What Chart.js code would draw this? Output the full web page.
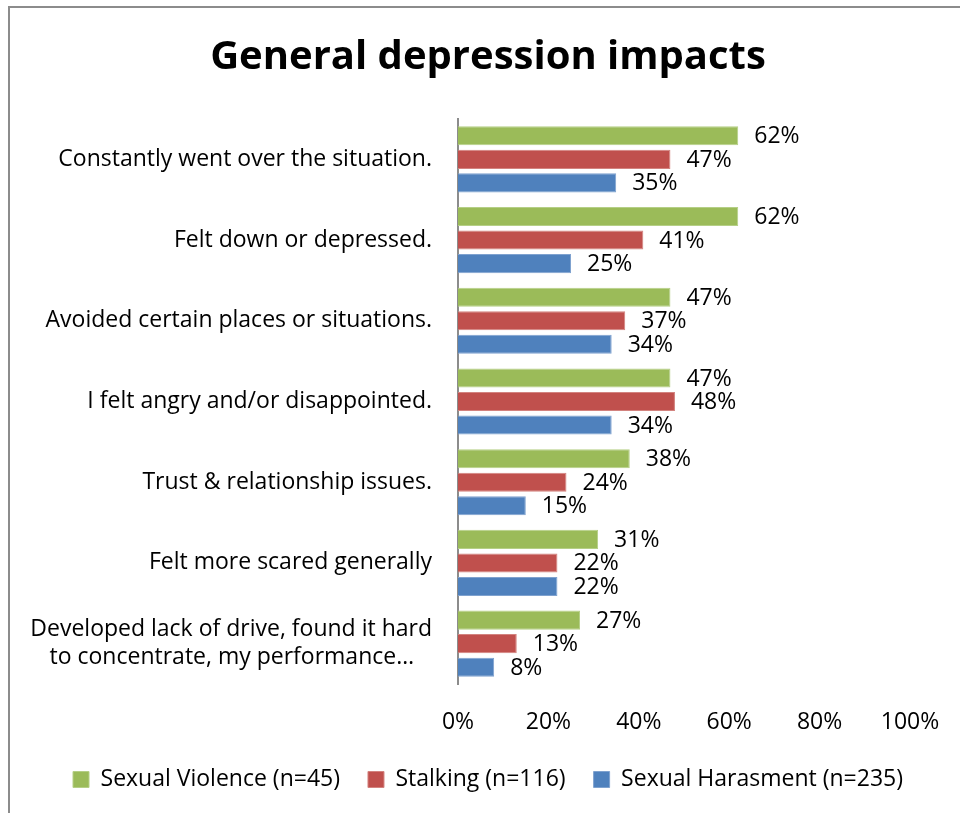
<!DOCTYPE html>
<html>
<head>
<meta charset="utf-8">
<script src="https://cdn.jsdelivr.net/npm/chart.js@4/dist/chart.umd.min.js"></script>
<style>
  html, body { margin: 0; padding: 0; background: #fff; }
  #wrap { position: relative; width: 960px; height: 813px; }
</style>
</head>
<body>
<div id="wrap"><canvas id="c" width="960" height="813"></canvas></div>
<script>
const categories = [
  "Constantly went over the situation.",
  "Felt down or depressed.",
  "Avoided certain places or situations.",
  "I felt angry and/or disappointed.",
  "Trust & relationship issues.",
  "Felt more scared generally",
  ["Developed lack of drive, found it hard", "to concentrate, my performance…"]
];
const seriesNames = ["Sexual Violence (n=45)", "Stalking (n=116)", "Sexual Harasment (n=235)"];
const sexualViolence = [62, 62, 47, 47, 38, 31, 27];
const stalking = [47, 41, 37, 48, 24, 22, 13];
const sexualHarassment = [35, 25, 34, 34, 15, 22, 8];
const xTicks = [0, 20, 40, 60, 80, 100];

const FONT = "'Open Sans', sans-serif";
const FS = 23;

// centre the lines of a multi-line category label (right-aligned axis)
const measureCtx = document.createElement('canvas').getContext('2d');
function centreLines(lines) {
  measureCtx.font = FS + 'px ' + FONT;
  const widths = lines.map(l => measureCtx.measureText(l).width);
  const maxW = Math.max(...widths);
  const sp = measureCtx.measureText(' ').width;
  return lines.map((l, i) => l + ' '.repeat(Math.round((maxW - widths[i]) / 2 / sp)));
}

const frame = {
  id: 'frame',
  beforeDraw(chart) {
    const ctx = chart.ctx;
    ctx.save();
    ctx.fillStyle = '#fff';
    ctx.fillRect(0, 0, chart.width, chart.height);
    ctx.strokeStyle = '#8c8c8c';
    ctx.lineWidth = 2;
    ctx.beginPath();
    ctx.moveTo(9, chart.height + 5);
    ctx.lineTo(9, 7);
    ctx.lineTo(chart.width + 5, 7);
    ctx.stroke();
    ctx.restore();
  }
};

const valueLabels = {
  id: 'valueLabels',
  afterDatasetsDraw(chart) {
    const ctx = chart.ctx;
    ctx.save();
    ctx.font = FS + "px " + FONT;
    ctx.fillStyle = '#000';
    ctx.textAlign = 'left';
    ctx.textBaseline = 'middle';
    chart.data.datasets.forEach((ds, i) => {
      const meta = chart.getDatasetMeta(i);
      meta.data.forEach((bar, j) => {
        ctx.fillText(ds.data[j] + '%', bar.x + 16, bar.y + 1);
      });
    });
    ctx.restore();
  }
};

new Chart(document.getElementById('c'), {
  type: 'bar',
  data: {
    labels: categories,
    datasets: [
      { label: seriesNames[0], data: sexualViolence, backgroundColor: '#9BBB59', borderColor: '#B5CF86', borderWidth: 1 },
      { label: seriesNames[1], data: stalking, backgroundColor: '#C0504D', borderColor: '#D3837F', borderWidth: 1 },
      { label: seriesNames[2], data: sexualHarassment, backgroundColor: '#4F81BD', borderColor: '#7FA2CF', borderWidth: 1 }
    ]
  },
  options: {
    indexAxis: 'y',
    responsive: false,
    animation: false,
    categoryPercentage: 0.875,
    barPercentage: 0.81,
    layout: { padding: { left: 16, right: 0, top: 10, bottom: 12 } },
    plugins: {
      title: {
        display: true,
        text: 'General depression impacts',
        color: '#000',
        font: { family: FONT, size: 40, weight: 'bold' },
        padding: { top: 24, bottom: 37 }
      },
      legend: {
        position: 'bottom',
        labels: {
          color: '#000',
          font: { family: FONT, size: FS },
          boxWidth: 16,
          boxHeight: 16,
          padding: 28
        }
      },
      tooltip: { enabled: false }
    },
    scales: {
      x: {
        min: 0,
        max: 100,
        afterBuildTicks(scale) { scale.ticks = xTicks.map(v => ({ value: v })); },
        afterFit(scale) {
          scale.height = 56;
          scale.paddingLeft = 0;
          scale.paddingRight = 0;
        },
        grid: { display: false, drawTicks: false },
        border: { display: false },
        ticks: {
          color: '#000',
          font: { family: FONT, size: FS },
          padding: 25,
          callback: v => v + '%'
        }
      },
      y: {
        grid: { display: false, drawTicks: false },
        border: { display: true, color: '#8c8c8c', width: 2 },
        afterFit(scale) { scale.width = 442; },
        ticks: {
          color: '#000',
          font: { family: FONT, size: FS },
          padding: 26,
          autoSkip: false,
          callback(value) {
            const lbl = this.getLabelForValue(value);
            return Array.isArray(lbl) ? centreLines(lbl) : lbl;
          }
        }
      },
      rightSpace: {
        type: 'linear',
        axis: 'y',
        position: 'right',
        display: true,
        grid: { display: false, drawTicks: false },
        border: { display: false },
        ticks: { display: false },
        afterFit(scale) { scale.width = 50; }
      }
    }
  },
  plugins: [frame, valueLabels]
});
</script>
</body>
</html>
